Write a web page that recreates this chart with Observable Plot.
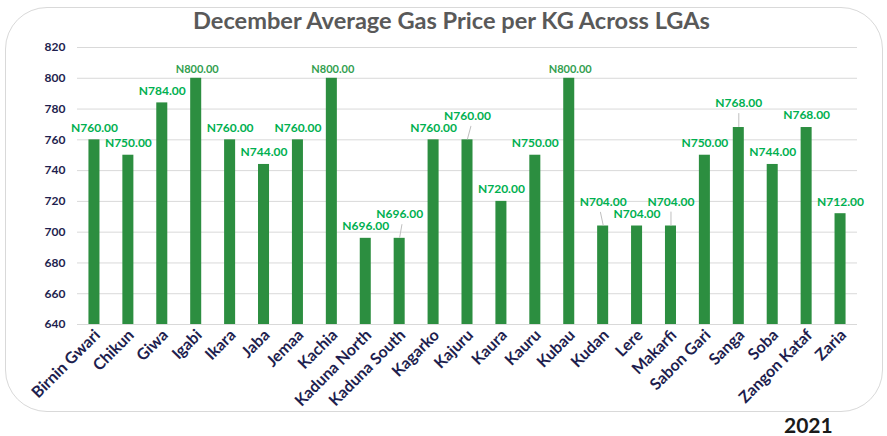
<!DOCTYPE html>
<html>
<head>
<meta charset="utf-8">
<script src="https://cdn.jsdelivr.net/npm/d3@7"></script>
<script src="https://cdn.jsdelivr.net/npm/@observablehq/plot@0.6"></script>
<style>
  html, body { margin: 0; padding: 0; background: #fff; }
  #wrap { position: relative; width: 887px; height: 436px; overflow: hidden; font-family: Lato, "Open Sans", sans-serif; }
  #frame { position: absolute; left: 5px; top: 7px; width: 878px; height: 405px; border: 1.5px solid #d9d9d9; border-radius: 42px; box-sizing: border-box; }
  #title { position: absolute; left: 8px; width: 887px; top: 6px; text-align: center; font-weight: 700; font-size: 23.6px; color: #595959; }
  #year { position: absolute; left: 784px; top: 412px; font-weight: 700; font-size: 21px; color: #1a1a1a; }
  #chart { position: absolute; left: 0; top: 0; }
</style>
</head>
<body>
<div id="wrap">
  <div id="frame"></div>
  <div id="chart"></div>
  <div id="title">December Average Gas Price per KG Across LGAs</div>
  <div id="year">2021</div>
</div>
<script>
const lgas = ["Birnin Gwari","Chikun","Giwa","Igabi","Ikara","Jaba","Jemaa","Kachia","Kaduna North","Kaduna South","Kagarko","Kajuru","Kaura","Kauru","Kubau","Kudan","Lere","Makarfi","Sabon Gari","Sanga","Soba","Zangon Kataf","Zaria"];
const prices = [760,750,784,800,760,744,760,800,696,696,760,760,720,750,800,704,704,704,750,768,744,768,712];
const yTicks = [640,660,680,700,720,740,760,780,800,820];

// labels that were moved up, with a leader line (tilt in degrees)
const leaderTilt = {"Kaduna South": 10, "Kajuru": 15, "Kudan": -12, "Makarfi": 0, "Sanga": 0};

const data = lgas.map((name, i) => ({name, price: prices[i]}));
const maxPrice = d3.max(prices);
const topBars = data.filter(d => d.price === maxPrice);
const normal = data.filter(d => !(d.name in leaderTilt) && d.price !== maxPrice);
const raised = data.filter(d => d.name in leaderTilt);
const fmt = d => "N" + d.price.toFixed(2);

const chart = Plot.plot({
  width: 887,
  height: 415,
  marginLeft: 77,
  marginRight: 30,
  marginTop: 47,
  marginBottom: 91,
  style: {fontFamily: "Lato, 'Open Sans', sans-serif", background: "transparent", overflow: "visible"},
  x: {domain: lgas, paddingInner: 0.675, paddingOuter: 0.3375, round: false, label: null},
  y: {domain: [yTicks[0], yTicks[yTicks.length - 1]], label: null},
  marks: [
    Plot.gridY(yTicks, {stroke: "#d9d9d9", strokeOpacity: 1, strokeWidth: 1}),
    Plot.axisY(yTicks, {tickSize: 0, tickPadding: 12, fontSize: 12, fontWeight: 700, fill: "#1e1e4e", label: null}),
    Plot.axisX({tickSize: 0, tickRotate: -45, tickPadding: 8, dx: 3, fontSize: 16, fontWeight: 700, fill: "#1e1e4e", label: null}),
    Plot.barY(data, {x: "name", y1: yTicks[0], y2: "price", fill: "#2c8e40"}),
    Plot.text(normal, {x: "name", y: "price", text: fmt, dy: -12, fill: "#00b050", fontSize: 12, fontWeight: 700}),
    Plot.text(topBars, {x: "name", y: "price", text: fmt, dy: -9, dx: 1, fill: "#33a04f", fontSize: 11, fontWeight: 700}),
    Plot.text(raised, {x: "name", y: "price", text: fmt, dy: -24, fill: "#00b050", fontSize: 12, fontWeight: 700}),
    Plot.vector(raised, {
      x: "name", y: "price", length: 13, anchor: "start", dy: -1,
      rotate: d => leaderTilt[d.name],
      stroke: "#bfbfbf", strokeWidth: 1,
      shape: {draw(ctx, l) { ctx.moveTo(0, 0); ctx.lineTo(0, -l); }}
    })
  ]
});
document.getElementById("chart").appendChild(chart);
</script>
</body>
</html>
